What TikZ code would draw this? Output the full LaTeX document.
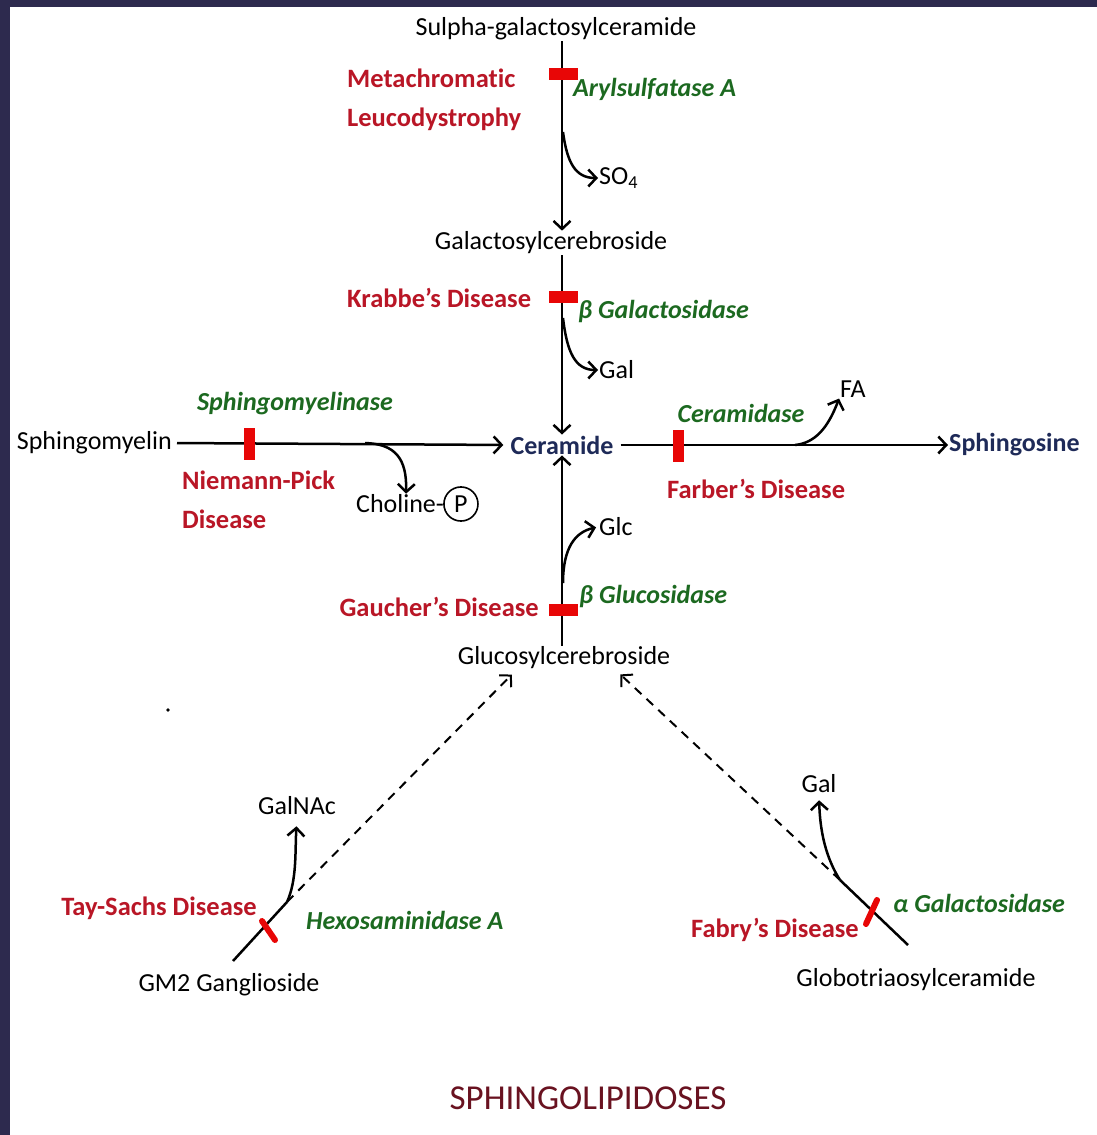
\documentclass[tikz,border=0pt]{standalone}
\usepackage{fontspec}
\setmainfont{Carlito}[Ligatures={TeX,NoCommon}]
\usetikzlibrary{arrows.meta, positioning}

\definecolor{framenavy}{RGB}{45,42,78}
\definecolor{disred}{RGB}{185,22,38}
\definecolor{enzgreen}{RGB}{28,105,32}
\definecolor{lipnavy}{RGB}{30,42,88}
\definecolor{titlered}{RGB}{105,18,32}
\definecolor{barred}{RGB}{232,6,6}

\tikzset{
  lip/.style={font=\fontsize{26}{30}\selectfont, inner sep=1pt},
  keylip/.style={lip, font=\fontsize{26}{30}\selectfont\bfseries, text=lipnavy},
  disease/.style={font=\fontsize{26.5}{39}\selectfont\bfseries, text=disred, inner sep=1pt, align=left},
  enzyme/.style={font=\fontsize{26}{30}\selectfont\bfseries\itshape, text=enzgreen, inner sep=1pt},
  block/.style={fill=barred, inner sep=0pt, minimum width=29pt, minimum height=12pt},
  vblock/.style={block, minimum width=11pt, minimum height=32pt},
  cut/.style={draw=barred, line width=6pt, line cap=round},
  flow/.style={line width=2.5pt},
  hint/.style={line width=2pt, dash pattern=on 9pt off 7pt},
}

\begin{document}
\begin{tikzpicture}[x=1pt, y=-1pt, >={Straight Barb[length=8pt,width=17pt]}]
  % frame
  \useasboundingbox (0,0) rectangle (1097,1135);
  \fill[framenavy] (0,0) rectangle (1097,7);
  \fill[framenavy] (0,0) rectangle (10,1135);

  % lipids
  \node[lip] (sulpha) at (556,29) {Sulpha-galactosylceramide};
  \node[lip] (galcer) at (551,243) {Galactosylcerebroside};
  \node[keylip] (cer) at (562,445) {Ceramide};
  \node[lip, anchor=east] (sphm) at (173,443) {Sphingomyelin};
  \node[keylip, anchor=west] (sphs) at (948,445) {Sphingosine};
  \node[lip] (glccer) at (564,658) {Glucosylcerebroside};
  \node[lip] (gm2) at (229,985) {GM2 Ganglioside};
  \node[lip] (globo) at (916,980) {Globotriaosylceramide};

  % products
  \node[lip, anchor=west] (so4) at (598,178) {SO\textsubscript{4}};
  \node[lip, anchor=west] (gal1) at (598,370) {Gal};
  \node[lip, anchor=west] (glc) at (598,527) {Glc};
  \node[lip] (fa) at (853,389) {FA};
  \node[lip, anchor=west] (chol) at (355,504) {Choline-};
  \node[lip, circle, draw, line width=1.6pt, inner sep=4.5pt, right=-2pt of chol] (phos) {P};
  \node[lip] (galnac) at (297,806) {GalNAc};
  \node[lip] (gal2) at (819,784) {Gal};

  % diseases
  \node[disease, anchor=west] (mld) at (346,100) {Metachromatic\\Leucodystrophy};
  \node[disease, anchor=west] (krabbe) at (346,298) {Krabbe's Disease};
  \node[disease, anchor=west] (np) at (181,500) {Niemann-Pick\\Disease};
  \node[disease, anchor=west] (farber) at (666,489) {Farber's Disease};
  \node[disease, anchor=east] (gaucher) at (540,607) {Gaucher's Disease};
  \node[disease, anchor=east] (taysachs) at (258,908) {Tay-Sachs Disease};
  \node[disease, anchor=east] (fabry) at (860,930) {Fabry's Disease};

  % enzymes
  \node[enzyme, anchor=west] (arsa) at (572,89) {Arylsulfatase A};
  \node[enzyme, anchor=west] (bgal) at (577,311) {β Galactosidase};
  \node[enzyme] (smase) at (295,404) {Sphingomyelinase};
  \node[enzyme] (cdase) at (741,413) {Ceramidase};
  \node[enzyme, anchor=west] (bglc) at (578,596) {β Glucosidase};
  \node[enzyme, anchor=west] (hexa) at (305,920) {Hexosaminidase A};
  \node[enzyme, anchor=west] (agal) at (892,903) {α Galactosidase};

  \node[font=\fontsize{35}{40}\selectfont, text=titlered] (title) at (588,1098) {SPHINGOLIPIDOSES};

  % main pathway
  \draw[flow, ->] (sulpha.south -| cer) -- (galcer.north -| cer);
  \draw[flow, ->] (galcer.south -| cer) -- (cer.north);
  \draw[flow, ->] (glccer.north -| cer) -- (cer.south);
  \draw[flow, ->, shorten <=4pt, shorten >=6pt] (sphm.east) -- (cer.west);
  \draw[flow, ->, shorten <=6pt] (cer.east) -- (sphs.west);

  % side products
  \coordinate (br1) at (563,132);
  \coordinate (br2) at (563,318);
  \coordinate (br3) at (563,583);
  \coordinate (br4) at (795,445);
  \coordinate (br5) at (365,443);
  \draw[flow, ->] (br1) .. controls (567,162) and (575,178) .. (so4.west);
  \draw[flow, ->] (br2) .. controls (567,352) and (575,370) .. (gal1.west);
  \draw[flow, ->, shorten >=2pt] (br3) .. controls (563,548) and (575,532) .. (glc.west);
  \draw[flow, ->] (br4) .. controls (815,443) and (828,428) .. (fa.south west);
  \draw[flow, ->] (br5) .. controls (395,444) and (407,458) .. ([xshift=6pt]chol.north);

  % lower branches
  \coordinate (gm2start) at (233,961);
  \coordinate (tsfork) at (287,902);
  \draw[flow] (gm2start) -- (tsfork);
  \draw[hint, ->, shorten >=6pt] (tsfork) -- ([xshift=-48pt]glccer.south);
  \draw[flow, ->, shorten >=10pt] (tsfork) .. controls (297,880) and (295,852) .. (galnac.south);
  \draw[cut] (262,921) -- (275,940);

  \coordinate (globostart) at (908,945);
  \coordinate (fbfork) at (840,880);
  \draw[flow] (globostart) -- (fbfork);
  \draw[hint, ->, shorten >=6pt] (fbfork) -- ([xshift=52pt]glccer.south);
  \draw[flow, ->, shorten >=6pt] (fbfork) .. controls (826,858) and (820,832) .. (gal2.south);
  \draw[cut] (866,924) -- (877,900);

  % blocks
  \node[block] (cut1) at (563,74) {};
  \node[block] (cut2) at (563,297) {};
  \node[block] (cut3) at (563,610) {};
  \node[vblock] (cut4) at (249,444) {};
  \node[vblock] (cut5) at (678,446) {};

  \fill (168,710) circle (1.8pt);
\end{tikzpicture}
\end{document}
